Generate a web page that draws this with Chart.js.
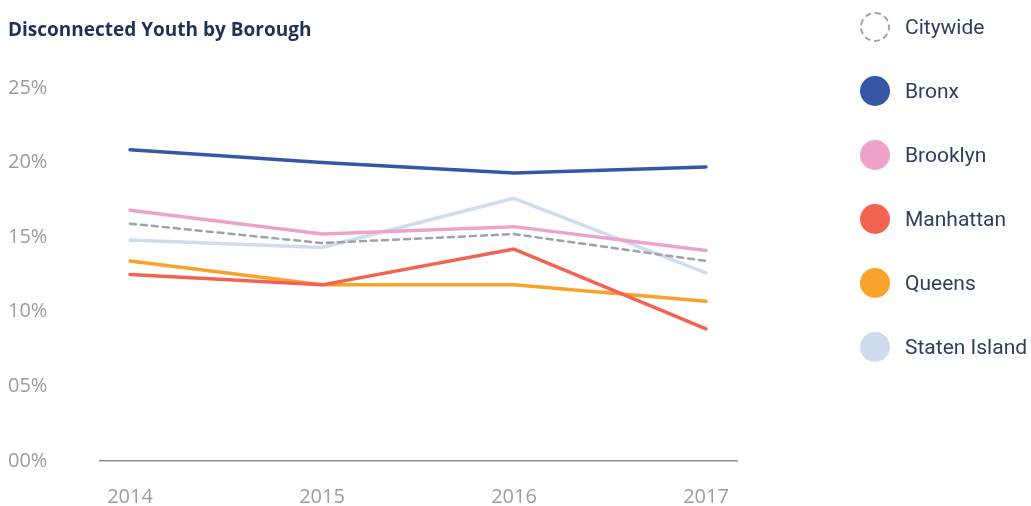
<!DOCTYPE html>
<html>
<head>
<meta charset="utf-8">
<script src="https://cdn.jsdelivr.net/npm/chart.js@4.4.1/dist/chart.umd.min.js"></script>
<style>
  html, body { margin: 0; padding: 0; background: #fff; }
  .wrap { position: relative; width: 1031px; height: 506px; }
  canvas { display: block; }
  .legend { position: absolute; left: 860px; top: 0; font-family: Roboto, "Noto Sans", sans-serif; }
  .legend-item { position: absolute; left: 0; display: flex; align-items: center; white-space: nowrap; font-size: 21px; color: #2f3e5e; }
  .legend-dot { width: 30px; height: 30px; border-radius: 50%; box-sizing: border-box; margin-right: 15px; }
</style>
</head>
<body>
<div class="wrap">
  <canvas id="chart" width="1031" height="506"></canvas>
  <div class="legend" id="legend"></div>
</div>
<script>
const years = [2014, 2015, 2016, 2017];
const seriesNames = ['Citywide', 'Bronx', 'Brooklyn', 'Manhattan', 'Queens', 'Staten Island'];
const seriesColors = ['#9ea1a7', '#3456a5', '#eda3c9', '#f26451', '#f9a229', '#cfdcf0'];

const citywide = [15.9, 14.6, 15.2, 13.4];
const bronx = [20.85, 20.0, 19.3, 19.7];
const brooklyn = [16.8, 15.2, 15.7, 14.1];
const manhattan = [12.5, 11.8, 14.2, 8.85];
const queens = [13.4, 11.8, 11.8, 10.7];
const statenIsland = [14.8, 14.3, 17.6, 12.6];

const yTicks = [0, 5, 10, 15, 20, 25];

const allValues = [citywide, bronx, brooklyn, manhattan, queens, statenIsland];

const datasets = allValues.map((vals, i) => ({
  label: seriesNames[i],
  data: vals.map((v, j) => ({ x: years[j], y: v })),
  borderColor: seriesColors[i],
  backgroundColor: seriesColors[i],
  borderWidth: i === 0 ? 2.5 : 3.5,
  borderDash: i === 0 ? [6, 5] : [],
  borderCapStyle: 'round',
  borderJoinStyle: 'round',
  pointRadius: 0,
  tension: 0
}));

const tickFont = { family: '"Open Sans", Roboto, sans-serif', size: 20 };

new Chart(document.getElementById('chart'), {
  type: 'line',
  data: { datasets },
  options: {
    responsive: false,
    animation: false,
    layout: { padding: { left: 8, right: 294, bottom: 0, top: 0 } },
    plugins: {
      legend: { display: false },
      tooltip: { enabled: false },
      title: {
        display: true,
        text: 'Disconnected Youth by Borough',
        align: 'start',
        color: '#1e3157',
        font: { family: '"Open Sans", Roboto, sans-serif', size: 19, weight: 'bold' },
        padding: { top: 19, bottom: 46 }
      }
    },
    scales: {
      x: {
        type: 'linear',
        min: 2014 - 30 / 192,
        max: 2017 + 31 / 192,
        afterBuildTicks: (scale) => { scale.ticks = years.map(v => ({ value: v })); },
        afterFit: (scale) => { scale.height = 45; },
        grid: { display: false, drawTicks: false },
        border: { display: true, color: '#8c9096', width: 1.5 },
        ticks: {
          padding: 24,
          color: '#9a9ca1',
          font: tickFont,
          callback: (v) => String(v),
          maxRotation: 0
        }
      },
      y: {
        min: 0,
        max: 25,
        afterBuildTicks: (scale) => { scale.ticks = yTicks.map(v => ({ value: v })); },
        afterFit: (scale) => { scale.width = 92; },
        grid: { display: false, drawTicks: false },
        border: { display: false },
        ticks: {
          crossAlign: 'far',
          padding: 0,
          color: '#9a9ca1',
          font: tickFont,
          callback: (v) => String(v).padStart(2, '0') + '%'
        }
      }
    }
  }
});

// legend built from the same series arrays
const legend = document.getElementById('legend');
seriesNames.forEach((name, i) => {
  const item = document.createElement('div');
  item.className = 'legend-item';
  item.style.top = (12 + i * 64) + 'px';
  const dot = document.createElement('span');
  dot.className = 'legend-dot';
  if (i === 0) {
    dot.style.border = '2.5px dashed ' + seriesColors[i];
  } else {
    dot.style.background = seriesColors[i];
  }
  item.appendChild(dot);
  item.appendChild(document.createTextNode(name));
  legend.appendChild(item);
});
</script>
</body>
</html>
